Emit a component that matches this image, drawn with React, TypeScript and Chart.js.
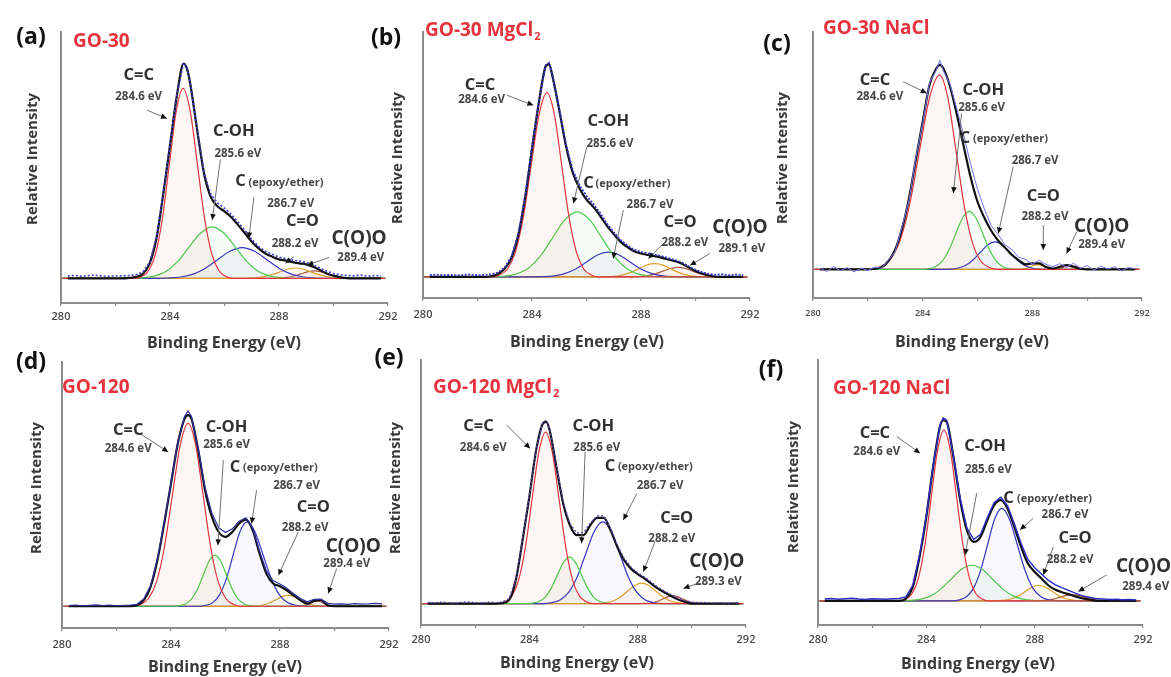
import React, { useEffect, useRef } from 'react';
import { Chart, registerables } from 'chart.js';

Chart.register(...registerables);

const PAGE_W = 1171;
const PAGE_H = 677;
const X_AXIS_BOX = 28;
const FONT = "'Open Sans', 'Liberation Sans', Arial, sans-serif";

// ---------------- shared energy grid for measured spectrum + envelope (eV) ----------------
const energyGrid = [280.25, 280.5, 280.75, 281, 281.25, 281.5, 281.75, 282, 282.25, 282.5, 282.75, 283, 283.25, 283.5, 283.75, 284, 284.25, 284.5, 284.625, 284.75, 285, 285.25, 285.5, 285.75, 286, 286.25, 286.5, 286.75, 287, 287.25, 287.5, 287.75, 288, 288.25, 288.5, 288.75, 289, 289.25, 289.5, 289.75, 290, 290.25, 290.5, 290.75, 291, 291.25, 291.5, 291.75];

const xTicks = [280, 282, 284, 286, 288, 290, 292];

// ---------------- (a) GO-30 ----------------
const envA = [0, 0, 0, 0, 0, 0, 0, 0, 0, 0.2, 0.6, 1.8, 6, 16, 34, 54, 74, 87.2, 85, 78.5, 60, 42.5, 33, 29.2, 27.2, 24.8, 21.6, 18.3, 14.9, 12.2, 10.1, 8.8, 7.7, 7.2, 6.6, 6.1, 5.7, 4.7, 3.4, 2.0, 1.1, 0.4, 0.1, 0, 0, 0, 0, 0];
const rawA = [1.0, 1.2, 0.9, 1.1, 1.3, 1.0, 0.8, 1.1, 1.0, 1.2, 1.5, 2.5, 6.5, 16.5, 34.5, 54.5, 74.5, 87.5, 85.5, 78.8, 60.5, 43, 34, 30.5, 28.5, 26, 22.8, 19.5, 15.8, 13, 11, 9.8, 8.6, 8, 7.4, 7, 6.5, 5.5, 4.2, 2.9, 2.0, 1.4, 1.2, 1.0, 1.3, 0.9, 1.1, 1.0];
const a_CC = [[280.05, 0], [282.73, 0], [282.98, 0.86], [283.23, 3.4], [283.48, 10.4], [283.73, 25.0], [283.98, 46.8], [284.23, 68.0], [284.48, 77.1], [284.74, 68.0], [285.0, 46.8], [285.26, 25.0], [285.52, 10.4], [285.78, 3.4], [286.04, 0.86], [286.3, 0], [291.9, 0]];
const a_COH = [[280.05, 0], [282.575, 0], [283.0, 0.23], [283.425, 0.92], [283.85, 2.8], [284.275, 6.8], [284.7, 12.7], [285.125, 18.4], [285.55, 20.9], [285.975, 18.4], [286.4, 12.7], [286.825, 6.8], [287.25, 2.8], [287.675, 0.92], [288.1, 0.23], [288.525, 0], [291.9, 0]];
const a_EP = [[280.05, 0], [283.5, 0], [283.95, 0.14], [284.4, 0.55], [284.85, 1.7], [285.3, 4.1], [285.75, 7.6], [286.2, 11.0], [286.65, 12.5], [287.1, 11.0], [287.55, 7.6], [288.0, 4.1], [288.45, 1.7], [288.9, 0.55], [289.35, 0.14], [289.8, 0], [291.9, 0]];
const a_CO = [[280.05, 0], [286.5, 0], [286.8, 0.05], [287.1, 0.18], [287.4, 0.57], [287.7, 1.4], [288.0, 2.5], [288.3, 3.7], [288.6, 4.2], [288.9, 3.7], [289.2, 2.5], [289.5, 1.4], [289.8, 0.57], [290.1, 0.18], [290.4, 0.05], [290.7, 0], [291.9, 0]];
const a_COO = [[280.05, 0], [287.55, 0], [287.8, 0.03], [288.05, 0.13], [288.3, 0.41], [288.55, 0.97], [288.8, 1.8], [289.05, 2.6], [289.3, 3.0], [289.55, 2.6], [289.8, 1.8], [290.05, 0.97], [290.3, 0.41], [290.55, 0.13], [290.8, 0.03], [291.05, 0], [291.9, 0]];

// ---------------- (b) GO-30 MgCl2 ----------------
const envB = [0, 0, 0, 0, 0, 0, 0, 0, 0, 0.3, 1.2, 3.5, 8, 17.5, 33, 53, 72, 87, 88, 83, 69, 54, 43, 36.5, 32, 29, 25.3, 21.1, 17.7, 14.5, 12.4, 10.6, 9.7, 9.1, 8.6, 8.0, 7.2, 6.5, 5.5, 3.9, 2.5, 1.4, 0.6, 0.1, 0, 0, 0, 0];
const rawB = [0.8, 1.0, 0.7, 0.9, 0.6, 0.9, 1.0, 0.7, 0.9, 1.1, 1.8, 4.0, 8.5, 18, 33.5, 53.5, 72.5, 87.5, 88.5, 83.5, 69.5, 54.8, 44, 37.8, 33.5, 30.2, 26.5, 22, 18.5, 15.3, 13, 11.2, 10.4, 9.8, 9.2, 8.6, 7.8, 7.0, 6.0, 4.4, 3.0, 1.9, 1.2, 0.9, 1.1, 0.7, 1.0, 0.8];
const b_CC = [[280.05, 0], [282.52, 0], [282.81, 0.85], [283.1, 3.3], [283.39, 10.3], [283.68, 24.7], [283.97, 46.2], [284.26, 67.2], [284.55, 76.2], [284.82, 67.2], [285.09, 46.2], [285.36, 24.7], [285.63, 10.3], [285.9, 3.3], [286.17, 0.85], [286.44, 0], [291.9, 0]];
const b_COH = [[280.05, 0], [282.51, 0], [282.96, 0.3], [283.41, 1.2], [283.86, 3.6], [284.31, 8.7], [284.76, 16.3], [285.21, 23.7], [285.66, 26.9], [286.11, 23.7], [286.56, 16.3], [287.01, 8.7], [287.46, 3.6], [287.91, 1.2], [288.36, 0.3], [288.81, 0], [291.9, 0]];
const b_EP = [[280.05, 0], [284.0, 0], [284.4, 0.11], [284.8, 0.45], [285.2, 1.4], [285.6, 3.3], [286.0, 6.2], [286.4, 9.1], [286.8, 10.3], [287.2, 9.1], [287.6, 6.2], [288.0, 3.3], [288.4, 1.4], [288.8, 0.45], [289.2, 0.11], [289.6, 0], [291.9, 0]];
const b_CO = [[280.05, 0], [286.4, 0], [286.7, 0.06], [287.0, 0.24], [287.3, 0.74], [287.6, 1.8], [287.9, 3.3], [288.2, 4.9], [288.5, 5.5], [288.8, 4.9], [289.1, 3.3], [289.4, 1.8], [289.7, 0.74], [290.0, 0.24], [290.3, 0.06], [290.6, 0], [291.9, 0]];
const b_COO = [[280.05, 0], [287.425, 0], [287.7, 0.04], [287.975, 0.18], [288.25, 0.54], [288.525, 1.3], [288.8, 2.4], [289.075, 3.5], [289.35, 4.0], [289.625, 3.5], [289.9, 2.4], [290.175, 1.3], [290.45, 0.54], [290.725, 0.18], [291.0, 0.04], [291.275, 0], [291.9, 0]];

// ---------------- (c) GO-30 NaCl ----------------
const envC = [0, 0, 0, 0, 0, 0, 0, 0, 0.3, 0.9, 3.5, 8.3, 17, 29.4, 45.3, 61.2, 76.3, 83.2, 84.6, 83.2, 75.6, 63.9, 50.8, 38.1, 28.0, 21.4, 16.0, 12.0, 9.1, 6.1, 3.9, 2.1, 2.5, 2.5, 1.0, 0.4, 1.1, 1.8, 1.1, 0.3, 0, 0, 0, 0, 0, 0, 0, 0];
const rawC = [0.5, -0.8, 1.2, -0.5, 0.8, -1.0, 0.6, -0.4, 1.0, 0.5, 3.8, 7.5, 17.8, 28.5, 46.2, 60.5, 77.2, 82.5, 86.5, 82.4, 76.5, 66.2, 55.5, 43.5, 33.2, 25.0, 18.1, 14.5, 10.2, 8.3, 5.1, 4.2, 2.2, 3.8, 2.1, 1.2, 2.4, 0.9, 2.6, 0.5, 1.6, -0.3, 1.4, 0.2, 1.1, -0.6, 0.8, 0.3];
const c_CC = [[280.05, 0], [282.03, 0], [282.4, 0.9], [282.77, 3.5], [283.14, 10.9], [283.51, 26.1], [283.88, 48.8], [284.25, 71.0], [284.62, 80.5], [284.92, 71.0], [285.22, 48.8], [285.52, 26.1], [285.82, 10.9], [286.12, 3.5], [286.42, 0.9], [286.72, 0], [291.9, 0]];
const c_COH = [[280.05, 0], [283.95, 0], [284.2, 0.27], [284.45, 1.05], [284.7, 3.2], [284.95, 7.8], [285.2, 14.6], [285.45, 21.2], [285.7, 24], [285.95, 21.2], [286.2, 14.6], [286.45, 7.8], [286.7, 3.2], [286.95, 1.05], [287.2, 0.27], [287.45, 0], [291.9, 0]];
const c_EP = [[280.05, 0], [284.715, 0], [284.99, 0.13], [285.265, 0.5], [285.54, 1.5], [285.815, 3.7], [286.09, 6.9], [286.365, 10.1], [286.64, 11.4], [286.915, 10.1], [287.19, 6.9], [287.465, 3.7], [287.74, 1.5], [288.015, 0.5], [288.29, 0.13], [288.565, 0], [291.9, 0]];
const c_CO = [[280.05, 0], [287.325, 0], [287.45, 0.02], [287.575, 0.09], [287.7, 0.27], [287.825, 0.65], [287.95, 1.21], [288.075, 1.77], [288.2, 2.0], [288.325, 1.77], [288.45, 1.21], [288.575, 0.65], [288.7, 0.27], [288.825, 0.09], [288.95, 0.02], [289.075, 0], [291.9, 0]];
const c_COO = [[280.05, 0], [288.525, 0], [288.65, 0.02], [288.775, 0.07], [288.9, 0.22], [289.025, 0.52], [289.15, 0.97], [289.275, 1.41], [289.4, 1.6], [289.525, 1.41], [289.65, 0.97], [289.775, 0.52], [289.9, 0.22], [290.025, 0.07], [290.15, 0.02], [290.275, 0], [291.9, 0]];

// ---------------- (d) GO-120 ----------------
const envD = [0, 0, 0, 0, 0, 0, 0, 0, 0, 0, 0.4, 2.5, 8, 19, 34.2, 50.7, 67.3, 77.6, 79.0, 77.6, 64.5, 48, 37, 30.7, 28.7, 30.7, 34.2, 35.8, 31.4, 21.8, 13.5, 9.4, 8.3, 6.6, 4.5, 2.5, 1.1, 2.2, 2.5, 0.4, 0, 0, 0, 0, 0, 0, 0, 0];
const rawD = [0.3, 0.5, 0.2, 0.4, 0.6, 0.3, 0.5, 0.2, 0.4, 0.5, 0.8, 3.0, 8.5, 19.5, 34.8, 51.2, 68, 78.5, 80.8, 78.5, 65.2, 49, 38.5, 32.5, 30.5, 32, 35.2, 36.6, 32.2, 22.8, 14.6, 10.5, 9.2, 7.4, 5.2, 3.2, 1.8, 2.8, 2.9, 1.2, 0.9, 1.0, 0.8, 1.1, 0.9, 1.0, 1.2, 1.0];
const d_CC = [[280.05, 0], [282.6, 0], [282.89, 0.84], [283.18, 3.3], [283.47, 10.2], [283.76, 24.5], [284.05, 45.9], [284.34, 66.7], [284.63, 75.6], [284.905, 66.7], [285.18, 45.9], [285.455, 24.5], [285.73, 10.2], [286.005, 3.3], [286.28, 0.84], [286.555, 0], [291.9, 0]];
const d_COH = [[280.05, 0], [284.105, 0], [284.32, 0.23], [284.535, 0.93], [284.75, 2.9], [284.965, 6.9], [285.18, 12.8], [285.395, 18.6], [285.61, 21.1], [285.825, 18.6], [286.04, 12.8], [286.255, 6.9], [286.47, 2.9], [286.685, 0.93], [286.9, 0.23], [287.115, 0], [291.9, 0]];
const d_EP = [[280.05, 0], [285.03, 0], [285.28, 0.39], [285.53, 1.5], [285.78, 4.7], [286.03, 11.3], [286.28, 21.2], [286.53, 30.8], [286.78, 34.9], [287.08, 30.8], [287.38, 21.2], [287.68, 11.3], [287.98, 4.7], [288.28, 1.5], [288.58, 0.39], [288.88, 0], [291.9, 0]];
const d_CO = [[280.05, 0], [286.725, 0], [286.95, 0.05], [287.175, 0.2], [287.4, 0.61], [287.625, 1.46], [287.85, 2.7], [288.075, 4.0], [288.3, 4.5], [288.525, 4.0], [288.75, 2.7], [288.975, 1.46], [289.2, 0.61], [289.425, 0.2], [289.65, 0.05], [289.875, 0], [291.9, 0]];
const d_COO = [[280.05, 0], [288.58, 0], [288.69, 0.02], [288.8, 0.1], [288.91, 0.3], [289.02, 0.71], [289.13, 1.33], [289.24, 1.94], [289.35, 2.2], [289.46, 1.94], [289.57, 1.33], [289.68, 0.71], [289.79, 0.3], [289.9, 0.1], [290.01, 0.02], [290.12, 0], [291.9, 0]];

// ---------------- (e) GO-120 MgCl2 ----------------
const envE = [0, 0, 0, 0, 0, 0, 0, 0, 0, 0, 0, 0.2, 1.4, 9.7, 26.3, 44.3, 63.6, 74.7, 75.4, 71.9, 56.7, 41.5, 32.5, 28.4, 28.4, 32.5, 35.6, 35.6, 30.4, 23.5, 18.0, 14.5, 12.2, 10.4, 8.3, 6.2, 4.6, 3.0, 1.7, 0.7, 0, 0, 0, 0, 0, 0, 0, 0];
const rawE = [0.5, 0.3, 0.6, 0.4, 0.2, 0.5, 0.7, 0.4, 0.3, 0.6, 0.4, 0.7, 2.0, 10.2, 26.8, 44.8, 64, 75.2, 76, 72.5, 57.2, 42.2, 33.2, 29.3, 29.5, 33.4, 36.4, 36.5, 31.2, 24.3, 18.8, 15.2, 12.8, 11, 8.9, 6.8, 5.1, 3.6, 2.2, 1.2, 0.6, 0.4, 0.5, 0.3, 0.4, 0.2, 0.3, 0.2];
const e_CC = [[280.05, 0], [282.85, 0], [283.1, 0.79], [283.35, 3.1], [283.6, 9.6], [283.85, 23.1], [284.1, 43.2], [284.35, 62.8], [284.6, 71.2], [284.85, 62.8], [285.1, 43.2], [285.35, 23.1], [285.6, 9.6], [285.85, 3.1], [286.1, 0.79], [286.35, 0], [291.9, 0]];
const e_COH = [[280.05, 0], [283.905, 0], [284.13, 0.21], [284.355, 0.85], [284.58, 2.6], [284.805, 6.3], [285.03, 11.7], [285.255, 17.0], [285.48, 19.3], [285.705, 17.0], [285.93, 11.7], [286.155, 6.3], [286.38, 2.6], [286.605, 0.85], [286.83, 0.21], [287.055, 0], [291.9, 0]];
const e_EP = [[280.05, 0], [284.505, 0], [284.82, 0.38], [285.135, 1.5], [285.45, 4.6], [285.765, 11.0], [286.08, 20.6], [286.395, 29.9], [286.71, 33.9], [287.025, 29.9], [287.34, 20.6], [287.655, 11.0], [287.97, 4.6], [288.285, 1.5], [288.6, 0.38], [288.915, 0], [291.9, 0]];
const e_CO = [[280.05, 0], [286.33, 0], [286.59, 0.09], [286.85, 0.37], [287.11, 1.15], [287.37, 2.8], [287.63, 5.2], [287.89, 7.5], [288.15, 8.5], [288.41, 7.5], [288.67, 5.2], [288.93, 2.8], [289.19, 1.15], [289.45, 0.37], [289.71, 0.09], [289.97, 0], [291.9, 0]];
const e_COO = [[280.05, 0], [288.075, 0], [288.25, 0.04], [288.425, 0.14], [288.6, 0.45], [288.775, 1.07], [288.95, 2.0], [289.125, 2.9], [289.3, 3.3], [289.475, 2.9], [289.65, 2.0], [289.825, 1.07], [290.0, 0.45], [290.175, 0.14], [290.35, 0.04], [290.525, 0], [291.9, 0]];

// ---------------- (f) GO-120 NaCl ----------------
const envF = [0, 0, 0, 0, 0, 0, 0, 0, 0, 0, 0, 0, 1.0, 5.8, 18.3, 34.9, 55.6, 72.2, 75.0, 74.3, 59.8, 41.8, 29.3, 24.5, 26.6, 33.5, 39.7, 41.8, 38.3, 30.7, 22.4, 15.5, 12.0, 9.3, 6.5, 4.7, 3.6, 2.8, 1.9, 1.1, 0.6, 0.1, 0, 0, 0, 0, 0, 0];
const rawF = [0.8, 1.0, 0.7, 0.9, 1.1, 0.8, 0.6, 0.9, 0.8, 0.7, 0.9, 1.0, 1.8, 6.5, 19, 35.5, 56.2, 73, 76, 75, 60.5, 42.5, 30.2, 25.5, 27.6, 34.5, 40.8, 43, 39.5, 32, 23.8, 17.2, 13.8, 11.2, 8.6, 6.8, 5.5, 4.4, 3.2, 2.2, 1.5, 1.0, 0.8, 0.6, 0.7, 0.5, 0.6, 0.4];
const f_CC = [[280.05, 0], [283.005, 0], [283.24, 0.79], [283.475, 3.1], [283.71, 9.6], [283.945, 23.0], [284.18, 43.0], [284.415, 62.6], [284.65, 70.9], [284.885, 62.6], [285.12, 43.0], [285.355, 23.0], [285.59, 9.6], [285.825, 3.1], [286.06, 0.79], [286.295, 0], [291.9, 0]];
const f_COH = [[280.05, 0], [282.985, 0], [283.37, 0.16], [283.755, 0.65], [284.14, 2.0], [284.525, 4.8], [284.91, 9.0], [285.295, 13.1], [285.68, 14.8], [286.065, 13.1], [286.45, 9.0], [286.835, 4.8], [287.22, 2.0], [287.605, 0.65], [287.99, 0.16], [288.375, 0], [291.9, 0]];
const f_EP = [[280.05, 0], [284.96, 0], [285.22, 0.43], [285.48, 1.7], [285.74, 5.2], [286.0, 12.5], [286.26, 23.3], [286.52, 33.9], [286.78, 38.4], [287.07, 33.9], [287.36, 23.3], [287.65, 12.5], [287.94, 5.2], [288.23, 1.7], [288.52, 0.43], [288.81, 0], [291.9, 0]];
const f_CO = [[280.05, 0], [286.4, 0], [286.65, 0.07], [286.9, 0.29], [287.15, 0.88], [287.4, 2.1], [287.65, 3.9], [287.9, 5.7], [288.15, 6.5], [288.4, 5.7], [288.65, 3.9], [288.9, 2.1], [289.15, 0.88], [289.4, 0.29], [289.65, 0.07], [289.9, 0], [291.9, 0]];
const f_COO = [[280.05, 0], [287.825, 0], [288.05, 0.03], [288.275, 0.11], [288.5, 0.35], [288.725, 0.84], [288.95, 1.6], [289.175, 2.3], [289.4, 2.6], [289.625, 2.3], [289.85, 1.6], [290.075, 0.84], [290.3, 0.35], [290.525, 0.11], [290.75, 0.03], [290.975, 0], [291.9, 0]];

// ---------------- styles ----------------
const peakColors = ['#e2343f', '#4ccb4c', '#3535c0', '#e0a22e', '#a9563a'];
const peakFills = ['rgba(226,52,63,0.05)', 'rgba(76,203,76,0.05)', 'rgba(53,53,192,0.04)', 'rgba(224,162,46,0.06)', 'rgba(169,86,58,0.05)'];

type Note = [string, number, number, string];
type Arrow = [number, number, number, number];

type Panel = {
  key: string;
  letter: string;
  letterPos: [number, number];
  title: string;
  titleSub: string;
  titlePos: [number, number];
  area: [number, number, number, number];
  yRange: [number, number];
  env: number[];
  raw: number[];
  peaks: number[][][];
  rawColor: string;
  rawDash: number[];
  rawWidth: number;
  tickSize: number;
  tickPad: number;
  yTitle: [number, number];
  xTitle: [number, number];
  notes: Note[];
  arrows: Arrow[];
};

const panels: Panel[] = [
  {
    key: 'a', letter: '(a)', letterPos: [31, 37], title: 'GO-30', titleSub: '', titlePos: [73, 42],
    area: [61, 32, 388, 303], yRange: [-10, 100], env: envA, raw: rawA,
    peaks: [a_CC, a_COH, a_EP, a_CO, a_COO], rawColor: '#3d3dd0', rawDash: [2, 2], rawWidth: 1.6,
    tickSize: 11, tickPad: 4, yTitle: [33, 159], xTitle: [224, 343],
    notes: [
      ['C=C', 282.85, 82.5, 'name'], ['284.6 eV', 282.85, 73.7, 'ev'],
      ['C-OH', 286.34, 59.5, 'name'], ['285.6 eV', 286.49, 50.7, 'ev'],
      ['C', 286.59, 39.2, 'name'], ['(epoxy/ether)', 286.88, 38.8, 'small'], ['286.7 eV', 288.43, 30.4, 'ev'],
      ['C=O', 288.86, 23.3, 'name'], ['288.2 eV', 288.59, 14.2, 'ev'],
      ['C(O)O', 290.94, 16.2, 'big'], ['289.4 eV', 291.0, 8.5, 'ev'],
    ],
    arrows: [[283.15, 68.3, 283.89, 64.9], [285.85, 48.3, 285.55, 23.7], [287.08, 32.9, 286.89, 16.2], [288.55, 8.8, 288.24, 6.1], [289.84, 8.5, 289.04, 5.4]],
  },
  {
    key: 'b', letter: '(b)', letterPos: [386, 38], title: 'GO-30 MgCl', titleSub: '2', titlePos: [425, 31],
    area: [423, 32, 750, 298], yRange: [-8.7, 101.3], env: envB, raw: rawB,
    peaks: [b_CC, b_COH, b_EP, b_CO, b_COO], rawColor: '#3434c8', rawDash: [2, 1.5], rawWidth: 1.8,
    tickSize: 11, tickPad: 7, yTitle: [398, 158], xTitle: [587, 342],
    notes: [
      ['C=C', 282.09, 79.4, 'name'], ['284.6 eV', 282.15, 73.2, 'ev'],
      ['C-OH', 286.8, 64.2, 'name'], ['285.6 eV', 286.86, 55.2, 'ev'],
      ['C', 286.07, 38.7, 'name'], ['(epoxy/ether)', 286.33, 38.5, 'small'], ['286.7 eV', 288.33, 29.7, 'ev'],
      ['C=O', 289.43, 22.8, 'name'], ['288.2 eV', 289.61, 14.1, 'ev'],
      ['C(O)O', 291.63, 20.3, 'big'], ['289.1 eV', 291.7, 11.8, 'ev'],
    ],
    arrows: [[283.07, 75.2, 284.05, 71.0], [286.01, 53.8, 285.52, 30.4], [287.35, 27.6, 286.98, 7.6], [288.82, 13.8, 288.27, 7.6], [290.53, 9.7, 289.8, 4.8]],
  },
  {
    key: 'c', letter: '(c)', letterPos: [777, 44], title: 'GO-30 NaCl', titleSub: '', titlePos: [823, 29],
    area: [813, 32, 1142, 298], yRange: [-11.8, 98.2], env: envC, raw: rawC,
    peaks: [c_CC, c_COH, c_EP, c_CO, c_COO], rawColor: '#7373ec', rawDash: [], rawWidth: 1,
    tickSize: 9, tickPad: 7, yTitle: [783, 158], xTitle: [972, 342],
    notes: [
      ['C=C', 282.26, 78.4, 'name'], ['284.6 eV', 282.44, 71.5, 'ev'],
      ['C-OH', 286.21, 74.2, 'name'], ['285.6 eV', 286.15, 66.7, 'ev'],
      ['C', 285.54, 54.2, 'name'], ['(epoxy/ether)', 285.84, 54.0, 'small'], ['286.7 eV', 288.1, 45.0, 'ev'],
      ['C=O', 288.4, 30.1, 'name'], ['288.2 eV', 288.46, 21.8, 'ev'],
      ['C(O)O', 290.53, 17.6, 'big'], ['289.4 eV', 290.53, 10.1, 'ev'],
    ],
    arrows: [[283.29, 77.7, 284.15, 72.9], [285.42, 64.6, 285.12, 31.5], [287.3, 42.5, 286.76, 14.9], [288.4, 18.3, 288.4, 8.0], [289.62, 15.6, 289.25, 6.6]],
  },
  {
    key: 'd', letter: '(d)', letterPos: [31, 362], title: 'GO-120', titleSub: '', titlePos: [62, 388],
    area: [62, 362, 389, 628], yRange: [-9, 101], env: envD, raw: rawD,
    peaks: [d_CC, d_COH, d_EP, d_CO, d_COO], rawColor: '#2d2d9e', rawDash: [], rawWidth: 1.2,
    tickSize: 11, tickPad: 7, yTitle: [37, 488], xTitle: [225, 667],
    notes: [
      ['C=C', 282.43, 72.8, 'name'], ['284.6 eV', 282.43, 65.2, 'ev'],
      ['C-OH', 286.04, 74.2, 'name'], ['285.6 eV', 286.04, 66.6, 'ev'],
      ['C', 286.35, 57.6, 'name'], ['(epoxy/ether)', 286.64, 57.4, 'small'], ['286.7 eV', 288.61, 50.0, 'ev'],
      ['C=O', 289.22, 41.1, 'name'], ['288.2 eV', 288.92, 32.5, 'ev'],
      ['C(O)O', 290.69, 24.5, 'big'], ['289.4 eV', 290.45, 17.7, 'ev'],
    ],
    arrows: [[282.86, 71.4, 283.9, 63.8], [285.92, 60.4, 285.72, 25.2], [287.14, 48.0, 286.96, 34.2], [288.67, 30.7, 287.94, 12.8], [290.08, 15.6, 289.77, 5.3]],
  },
  {
    key: 'e', letter: '(e)', letterPos: [389, 358], title: 'GO-120 MgCl', titleSub: '2', titlePos: [433, 388],
    area: [421, 360, 746, 625], yRange: [-8.9, 101.1], env: envE, raw: rawE,
    peaks: [e_CC, e_COH, e_EP, e_CO, e_COO], rawColor: '#5a48b0', rawDash: [2, 2], rawWidth: 1.4,
    tickSize: 11, tickPad: 5, yTitle: [396, 488], xTitle: [577, 663],
    notes: [
      ['C=C', 282.12, 73.4, 'name'], ['284.6 eV', 282.3, 64.8, 'ev'],
      ['C-OH', 286.36, 73.4, 'name'], ['285.6 eV', 286.49, 64.8, 'ev'],
      ['C', 286.98, 56.8, 'name'], ['(epoxy/ether)', 287.27, 56.6, 'small'], ['286.7 eV', 288.83, 48.8, 'ev'],
      ['C=O', 289.44, 35.4, 'name'], ['288.2 eV', 289.26, 26.8, 'ev'],
      ['C(O)O', 290.92, 17.4, 'big'], ['289.3 eV', 290.98, 9.0, 'ev'],
    ],
    arrows: [[283.16, 74.1, 284.03, 64.4], [286.06, 63.0, 285.93, 25.0], [287.97, 45.7, 287.47, 34.7], [288.64, 25.7, 288.21, 13.2], [290.24, 8.4, 289.69, 6.3]],
  },
  {
    key: 'f', letter: '(f)', letterPos: [771, 370], title: 'GO-120 NaCl', titleSub: '', titlePos: [833, 389],
    area: [818, 360, 1143, 625], yRange: [-10, 100], env: envF, raw: rawF,
    peaks: [f_CC, f_COH, f_EP, f_CO, f_COO], rawColor: '#2c2cc4', rawDash: [], rawWidth: 1.4,
    tickSize: 11, tickPad: 5, yTitle: [794, 487], xTitle: [978, 664],
    notes: [
      ['C=C', 282.1, 69.6, 'name'], ['284.6 eV', 282.17, 62.0, 'ev'],
      ['C-OH', 286.17, 64.1, 'name'], ['285.6 eV', 286.29, 54.4, 'ev'],
      ['C', 287.03, 42.6, 'name'], ['(epoxy/ether)', 287.35, 42.4, 'small'], ['286.7 eV', 289.12, 35.7, 'ev'],
      ['C=O', 289.49, 26.0, 'name'], ['288.2 eV', 289.31, 17.0, 'ev'],
      ['C(O)O', 292.02, 14.2, 'big'], ['289.4 eV', 292.1, 5.9, 'ev'],
    ],
    arrows: [[282.91, 68.2, 283.77, 61.3], [285.86, 44.7, 285.43, 19.1], [287.95, 34.3, 287.46, 29.5], [288.69, 22.5, 288.32, 10.8], [290.66, 10.8, 289.61, 3.9]],
  },
];

const noteFonts: Record<string, string> = {
  name: `bold 16.5px ${FONT}`,
  ev: `bold 11.5px ${FONT}`,
  big: `bold 19px ${FONT}`,
  small: `bold 11px ${FONT}`,
};

function drawArrow(ctx: CanvasRenderingContext2D, x1: number, y1: number, x2: number, y2: number) {
  ctx.strokeStyle = '#707070';
  ctx.lineWidth = 1;
  ctx.beginPath();
  ctx.moveTo(x1, y1);
  ctx.lineTo(x2, y2);
  ctx.stroke();
  const ang = Math.atan2(y2 - y1, x2 - x1);
  const L = 6;
  const Wd = 2.8;
  const bx = x2 - L * Math.cos(ang);
  const by = y2 - L * Math.sin(ang);
  ctx.fillStyle = '#111';
  ctx.beginPath();
  ctx.moveTo(x2, y2);
  ctx.lineTo(bx + Wd * Math.sin(ang), by - Wd * Math.cos(ang));
  ctx.lineTo(bx - Wd * Math.sin(ang), by + Wd * Math.cos(ang));
  ctx.closePath();
  ctx.fill();
}

function makeTextPlugin(p: Panel) {
  return {
    id: 'xpsText_' + p.key,
    afterDraw(chart: any) {
      const ctx: CanvasRenderingContext2D = chart.ctx;
      const xs = chart.scales.x;
      const ys = chart.scales.y;
      ctx.save();
      p.arrows.forEach(([e1, v1, e2, v2]) => {
        drawArrow(ctx, xs.getPixelForValue(e1), ys.getPixelForValue(v1), xs.getPixelForValue(e2), ys.getPixelForValue(v2));
      });
      ctx.textBaseline = 'middle';
      p.notes.forEach(([text, e, v, kind]) => {
        ctx.font = noteFonts[kind];
        ctx.fillStyle = kind === 'ev' || kind === 'small' ? '#474747' : '#303030';
        ctx.textAlign = kind === 'small' ? 'left' : 'center';
        ctx.fillText(text, xs.getPixelForValue(e), ys.getPixelForValue(v));
      });
      ctx.font = `bold 23px ${FONT}`;
      ctx.fillStyle = '#111';
      ctx.textAlign = 'center';
      ctx.fillText(p.letter, p.letterPos[0], p.letterPos[1]);
      ctx.font = `bold 19px ${FONT}`;
      ctx.fillStyle = '#e5323d';
      ctx.textAlign = 'left';
      ctx.fillText(p.title, p.titlePos[0], p.titlePos[1]);
      if (p.titleSub) {
        const w = ctx.measureText(p.title).width;
        ctx.font = `bold 11px ${FONT}`;
        ctx.fillText(p.titleSub, p.titlePos[0] + w + 1, p.titlePos[1] + 6);
      }
      ctx.fillStyle = '#3a3a3a';
      ctx.font = `bold 16px ${FONT}`;
      ctx.textAlign = 'center';
      ctx.fillText('Binding Energy (eV)', p.xTitle[0], p.xTitle[1]);
      ctx.save();
      ctx.translate(p.yTitle[0], p.yTitle[1]);
      ctx.rotate(-Math.PI / 2);
      ctx.font = `bold 15px ${FONT}`;
      ctx.fillText('Relative Intensity', 0, 0);
      ctx.restore();
      ctx.restore();
    },
  };
}

function buildChart(canvas: HTMLCanvasElement, p: Panel) {
  const [left, top, right, bottom] = p.area;
  const datasets: any[] = [];
  datasets.push({
    label: 'measured',
    data: energyGrid.map((x, i) => ({ x, y: p.raw[i] })),
    borderColor: p.rawColor,
    borderWidth: p.rawWidth,
    borderDash: p.rawDash,
    pointRadius: 0,
    tension: 0,
    fill: false,
  });
  datasets.push({
    label: 'envelope',
    data: energyGrid.map((x, i) => ({ x, y: p.env[i] })),
    borderColor: '#111111',
    borderWidth: 2.2,
    pointRadius: 0,
    cubicInterpolationMode: 'monotone',
    fill: false,
  });
  const names = ['C=C', 'C-OH', 'C (epoxy/ether)', 'C=O', 'C(O)O'];
  p.peaks.forEach((pk, i) => {
    datasets.push({
      label: names[i],
      data: pk.map(([x, y]) => ({ x, y })),
      borderColor: peakColors[i],
      backgroundColor: peakFills[i],
      borderWidth: 1.2,
      pointRadius: 0,
      cubicInterpolationMode: 'monotone',
      fill: 'origin',
    });
  });

  return new Chart(canvas, {
    type: 'line',
    data: { datasets },
    plugins: [makeTextPlugin(p)],
    options: {
      responsive: false,
      animation: false,
      devicePixelRatio: 1,
      events: [],
      layout: { padding: { left, top, right: PAGE_W - right, bottom: PAGE_H - bottom - X_AXIS_BOX } },
      plugins: { legend: { display: false }, tooltip: { enabled: false } },
      elements: { point: { radius: 0 } },
      scales: {
        x: {
          type: 'linear',
          min: xTicks[0],
          max: xTicks[xTicks.length - 1],
          afterFit: (s: any) => { s.height = X_AXIS_BOX; },
          afterBuildTicks: (s: any) => { s.ticks = xTicks.map((v) => ({ value: v })); },
          ticks: {
            autoSkip: false,
            maxRotation: 0,
            padding: p.tickPad,
            color: '#4a4a4a',
            font: { family: FONT, size: p.tickSize, weight: '600' },
            callback: (v: any) => (Number(v) % 4 === 0 ? String(v) : ''),
          },
          grid: { display: true, drawOnChartArea: false, drawTicks: true, tickLength: 3, color: '#8a8a8a', lineWidth: 1.2 },
          border: { display: true, color: '#8c8c8c', width: 2 },
        },
        y: {
          type: 'linear',
          min: p.yRange[0],
          max: p.yRange[1],
          afterFit: (s: any) => { s.width = 0; },
          ticks: { display: false },
          grid: { display: false, drawTicks: false },
          border: { display: true, color: '#8c8c8c', width: 2 },
        },
      },
    } as any,
  });
}

function App() {
  const refs = useRef<(HTMLCanvasElement | null)[]>([]);
  useEffect(() => {
    const charts = panels.map((p, i) => buildChart(refs.current[i] as HTMLCanvasElement, p));
    return () => { charts.forEach((c) => c.destroy()); };
  }, []);
  return (
    <div style={{ position: 'absolute', left: 0, top: 0, width: PAGE_W, height: PAGE_H, background: '#ffffff', overflow: 'hidden' }}>
      {panels.map((p, i) => (
        <canvas
          key={p.key}
          ref={(el) => { refs.current[i] = el; }}
          width={PAGE_W}
          height={PAGE_H}
          style={{ position: 'absolute', left: 0, top: 0, width: PAGE_W, height: PAGE_H, display: 'block' }}
        />
      ))}
    </div>
  );
}

export default App;
